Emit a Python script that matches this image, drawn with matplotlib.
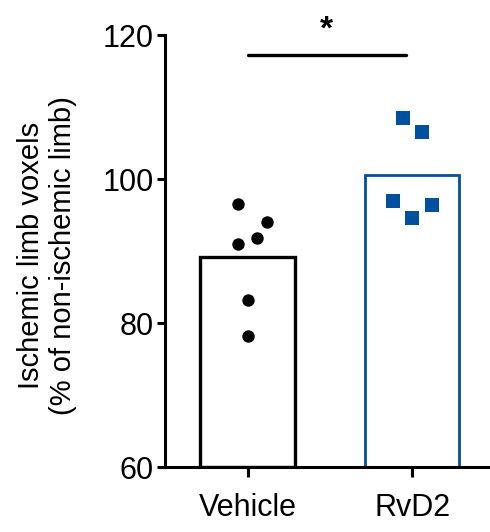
import matplotlib
matplotlib.use('Agg')
import matplotlib.pyplot as plt

plt.rcParams['font.family'] = ['Liberation Sans', 'DejaVu Sans']

# datos
grupos = ['Vehicle', 'RvD2']
vehicle = [96.6, 94.0, 91.8, 91.0, 83.2, 78.2]
rvd2 = [108.5, 106.5, 96.9, 94.6, 96.4]
medias = [sum(vehicle) / len(vehicle), sum(rvd2) / len(rvd2)]

# desplazamiento horizontal de los puntos (solo estetico)
jit_vehicle = [-0.06, 0.12, 0.06, -0.06, 0.0, 0.0]
jit_rvd2 = [-0.06, 0.06, -0.12, 0.0, 0.12]

azul = '#0050a0'

fig = plt.figure(figsize=(4.9, 5.32), dpi=100)
ax = fig.add_axes([0.337, 0.122, 0.663, 0.812])

x = [0, 1]
ax.bar(x[0], medias[0] - 60, bottom=60, width=0.576, facecolor='white',
       edgecolor='black', linewidth=2.4, zorder=2)
ax.bar(x[1], medias[1] - 60, bottom=60, width=0.57, facecolor='white',
       edgecolor=azul, linewidth=2.0, zorder=2)

ax.scatter([x[0] + j for j in jit_vehicle], vehicle, s=80, color='black',
           marker='o', linewidths=0, zorder=3)
ax.scatter([x[1] + j for j in jit_rvd2], rvd2, s=90, color=azul,
           marker='s', linewidths=0, zorder=3)

# linea de significancia
ax.plot([0, 0.96], [117.3, 117.3], color='black', linewidth=2.4,
        solid_capstyle='round', clip_on=False)
ax.text(0.48, 0.975, '*', transform=ax.get_xaxis_transform(), ha='center',
        va='bottom', fontsize=24, fontweight='bold')

ax.set_ylim(60, 120)
ax.set_xlim(-0.5, 1.47)
ax.set_yticks([60, 80, 100, 120])
ax.set_xticks(x)
ax.set_xticklabels(grupos)

for s in ['top', 'right']:
    ax.spines[s].set_visible(False)
for s in ['left', 'bottom']:
    ax.spines[s].set_linewidth(2.2)

ax.tick_params(axis='both', width=2.2, length=6, labelsize=22)
ax.tick_params(axis='y', pad=2)
ax.tick_params(axis='x', length=7, pad=12)

ax.set_ylabel('Ischemic limb voxels\n(% of non-ischemic limb)', fontsize=21)
ax.yaxis.set_label_coords(-0.27, 0.49)

fig.savefig('out.png', dpi=100)
